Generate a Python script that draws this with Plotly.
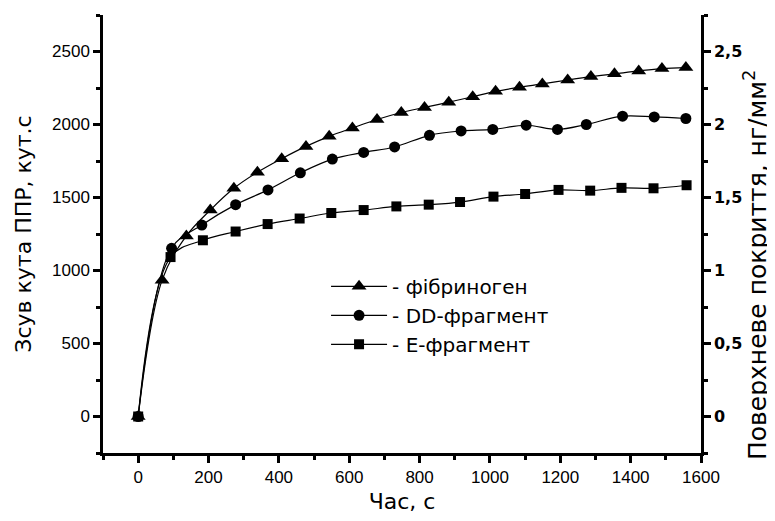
import plotly.graph_objects as go

# Data
fib_x = [0, 68, 137, 205, 272, 339, 408, 477, 543, 609, 679, 748, 814, 883, 951, 1016, 1084, 1149, 1221, 1287, 1354, 1423, 1489, 1557]
fib_y = [0, 934, 1237, 1414, 1563, 1673, 1766, 1850, 1919, 1976, 2034, 2082, 2117, 2153, 2190, 2227, 2255, 2278, 2305, 2328, 2347, 2367, 2383, 2390]

dd_x = [0, 95, 181, 277, 369, 461, 552, 641, 729, 828, 918, 1008, 1103, 1192, 1274, 1377, 1467, 1557]
dd_y = [0, 1152, 1311, 1451, 1552, 1669, 1763, 1809, 1846, 1926, 1956, 1966, 1995, 1966, 2000, 2057, 2052, 2041]

e_x = [0, 92, 184, 277, 368, 459, 549, 641, 734, 826, 915, 1010, 1100, 1195, 1285, 1374, 1465, 1559]
e_y = [0, 1092, 1207, 1267, 1318, 1356, 1394, 1414, 1439, 1451, 1469, 1506, 1524, 1552, 1547, 1566, 1563, 1584]

names = ["- фібриноген", "- DD-фрагмент", "- Е-фрагмент"]
symbols = ["triangle-up", "circle", "square"]
sizes = [13, 11, 10]

right_tickvals = [0, 0.5, 1, 1.5, 2, 2.5]
right_ticktext = ["0", "0,5", "1", "1,5", "2", "2,5"]

x_title = "Час, с"
y_title = "Зсув кута ППР, кут.с"
y2_title = "Поверхневе покриття, нг/мм<sup>2</sup>"

FONT = "Arial, 'Liberation Sans', sans-serif"
WIDE = "'DejaVu Sans', sans-serif"

fig = go.Figure()
for xs, ys, nm, sym, sz in zip([fib_x, dd_x, e_x], [fib_y, dd_y, e_y], names, symbols, sizes):
    fig.add_trace(go.Scatter(
        x=xs, y=ys, name=nm, mode="lines+markers",
        line=dict(color="black", width=1.2, shape="spline", smoothing=1.0),
        marker=dict(symbol=sym, size=sz, color="black"),
    ))

# dummy trace so the right axis is drawn
fig.add_trace(go.Scatter(x=[None], y=[None], yaxis="y2", showlegend=False, hoverinfo="skip"))

axis_common = dict(
    showline=True, linecolor="black", linewidth=2.5,
    ticks="outside", ticklen=7, tickwidth=2.5, tickcolor="black",
    showgrid=False, zeroline=False, automargin=False,
    tickfont=dict(family=FONT, size=17, color="black"),
)
minor_common = dict(ticklen=4, tickwidth=2.5, tickcolor="black", ticks="outside")

# page body has an 8px default margin, so the figure is sized to fit the 775x521 window
fig.update_layout(
    width=767, height=513,
    margin=dict(l=95, r=74, t=7, b=68),
    paper_bgcolor="white", plot_bgcolor="white",
    font=dict(family=FONT, color="black"),
    xaxis=dict(
        range=[-100, 1600], dtick=200, tick0=0,
        minor=dict(dtick=100, **minor_common),
        title=dict(text=x_title, font=dict(family=WIDE, size=22), standoff=8),
        **axis_common,
    ),
    yaxis=dict(
        range=[-250, 2750], dtick=500, tick0=0,
        minor=dict(dtick=250, **minor_common),
        title=dict(text=y_title, font=dict(family=WIDE, size=22), standoff=15),
        **axis_common,
    ),
    yaxis2=dict(
        overlaying="y", side="right", anchor="x",
        range=[-0.25, 2.75],
        tickvals=right_tickvals, ticktext=right_ticktext,
        minor=dict(dtick=0.25, **minor_common),
        showline=True, linecolor="black", linewidth=2.5,
        ticks="outside", ticklen=7, tickwidth=2.5, tickcolor="black",
        showgrid=False, zeroline=False, automargin=False,
        tickfont=dict(family=WIDE, size=16, color="black", weight="bold"),
    ),
    legend=dict(
        x=0.373, y=0.425, xanchor="left", yanchor="top",
        bgcolor="rgba(0,0,0,0)", borderwidth=0,
        font=dict(family=WIDE, size=20, color="black"),
        itemwidth=56,
    ),
    showlegend=True,
    annotations=[dict(
        text=y2_title, textangle=-90,
        xref="paper", yref="paper",
        x=(755 - 103) / 598, y=(453 - 265) / 438,
        xanchor="center", yanchor="middle", showarrow=False,
        font=dict(family=WIDE, size=25, color="black"),
    )],
)

fig.write_html("out.html")
